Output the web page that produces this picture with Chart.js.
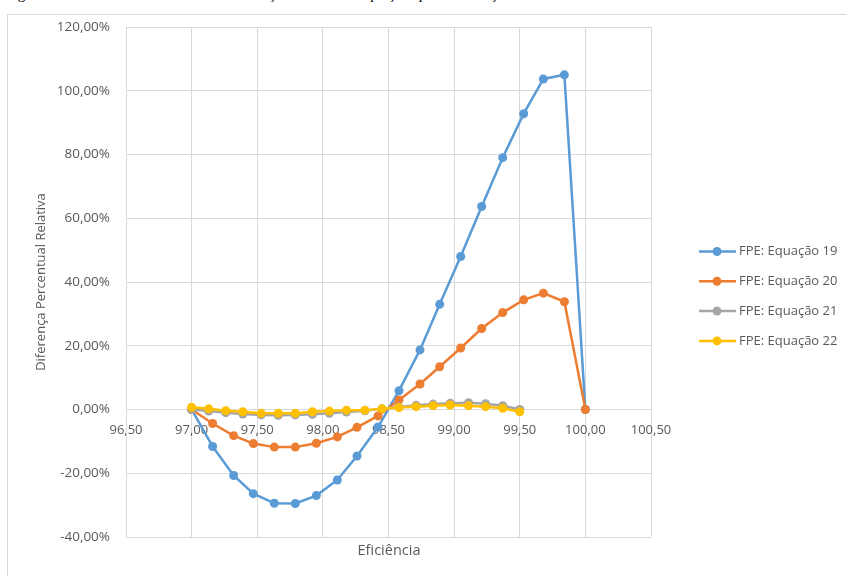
<!DOCTYPE html>
<html lang="pt">
<head>
<meta charset="UTF-8">
<title>FPE - Diferença Percentual Relativa</title>
<script src="https://cdn.jsdelivr.net/npm/chart.js"></script>
<style>
body{
  margin:0;
  background:white;
  width:846px;
  height:576px;
  overflow:hidden;
  position:relative;
}
.caption{
  position:absolute;
  left:5px;
  top:-15px;
  font-family:"Liberation Serif";
  font-size:15.2px;
  color:black;
  white-space:nowrap;
}
.frame{
  position:absolute;
  left:7px;
  top:14px;
  width:900px;
  height:600px;
  border:1px solid #d9d9d9;
}
#chart{
  position:absolute;
  left:0;
  top:0;
}
</style>
</head>
<body>

<div class="caption">Figura 18 – Resultado da análise de diferença relativa das equações para a correção</div>
<div class="frame"></div>
<canvas id="chart" width="846" height="576"></canvas>

<script>
// eixo x das equações 19 e 20 (20 pontos de 97,00 a 100,00)
const efic1920 = [97.00, 97.16, 97.32, 97.47, 97.63, 97.79, 97.95, 98.11, 98.26, 98.42,
                  98.58, 98.74, 98.89, 99.05, 99.21, 99.37, 99.53, 99.68, 99.84, 100.00];
// eixo x das equações 21 e 22 (20 pontos de 97,00 a 99,50)
const efic2122 = [97.00, 97.13, 97.26, 97.39, 97.53, 97.66, 97.79, 97.92, 98.05, 98.18,
                  98.32, 98.45, 98.58, 98.71, 98.84, 98.97, 99.11, 99.24, 99.37, 99.50];

// valores em %
const eq19 = [0, -11.6, -20.7, -26.4, -29.4, -29.5, -27.0, -22.1, -14.6, -5.5,
              5.9, 18.7, 33.0, 48.0, 63.7, 79.0, 92.8, 103.7, 105.0, 0];
const eq20 = [0, -4.4, -8.2, -10.7, -11.8, -11.8, -10.6, -8.6, -5.6, -2.0,
              3.0, 8.0, 13.4, 19.3, 25.4, 30.4, 34.4, 36.5, 33.8, 0];
const eq21 = [0, -0.5, -1.0, -1.4, -1.7, -1.8, -1.7, -1.5, -1.2, -0.8,
              -0.4, 0.2, 0.8, 1.3, 1.7, 2.0, 2.1, 1.8, 1.2, 0.0];
const eq22 = [0.7, 0.2, -0.4, -0.7, -1.2, -1.2, -1.2, -0.7, -0.5, -0.2,
              -0.2, 0.2, 0.6, 0.9, 1.2, 1.4, 1.2, 0.9, 0.4, -0.7];

const nomes = ["FPE: Equação 19", "FPE: Equação 20", "FPE: Equação 21", "FPE: Equação 22"];
const cores = ["#5b9bd5", "#ed7d31", "#a5a5a5", "#ffc000"];

const yMin = -40, yMax = 120, yPasso = 20;
const xMin = 96.5, xMax = 100.5, xPasso = 0.5;

function pares(xs, ys){
  return xs.map((x,i)=>({x:x, y:ys[i]}));
}

const series = [
  pares(efic1920, eq19),
  pares(efic1920, eq20),
  pares(efic2122, eq21),
  pares(efic2122, eq22)
];

const FONTE = "'Open Sans'";
const CINZA = "#595959";

// legenda e título do eixo x desenhados à mão
const extras = {
  id:'extras',
  afterDraw(chart){
    const c = chart.ctx;
    c.save();
    chart.data.datasets.forEach((ds,i)=>{
      const y = 251.5 + i*29.8;
      c.strokeStyle = ds.borderColor;
      c.lineWidth = 2.5;
      c.beginPath();
      c.moveTo(699,y);
      c.lineTo(736,y);
      c.stroke();
      c.fillStyle = ds.borderColor;
      c.beginPath();
      c.arc(717,y,4.5,0,Math.PI*2);
      c.fill();
      c.fillStyle = CINZA;
      c.font = "13px " + FONTE;
      c.textAlign = 'left';
      c.textBaseline = 'middle';
      c.fillText(ds.label, 739, y);
    });
    c.font = "14.5px " + FONTE;
    c.textAlign = 'center';
    c.textBaseline = 'middle';
    c.fillText("Eficiência", 389, 551);
    c.restore();
  }
};

new Chart(document.getElementById('chart'),{
  type:'scatter',
  data:{
    datasets: series.map((d,i)=>({
      label: nomes[i],
      data: d,
      showLine: true,
      borderColor: cores[i],
      backgroundColor: cores[i],
      borderWidth: 2.5,
      pointRadius: 4.5,
      pointHoverRadius: 4.5,
      pointBorderWidth: 0,
      order: 4 - i
    }))
  },
  options:{
    responsive:false,
    animation:false,
    devicePixelRatio:1,
    layout:{ padding:{ left:0, right:195, top:27, bottom:39 } },
    plugins:{
      legend:{ display:false },
      tooltip:{ enabled:false }
    },
    scales:{
      x:{
        type:'linear',
        position:{ y:0 },
        min:xMin, max:xMax,
        ticks:{
          stepSize:xPasso,
          padding:13,
          color:CINZA,
          font:{ family:FONTE, size:13 },
          callback: v => v.toFixed(2).replace('.',',')
        },
        grid:{ color:'#d9d9d9', lineWidth:1, drawTicks:false },
        border:{ color:'#d9d9d9' }
      },
      y:{
        min:yMin, max:yMax,
        afterFit: s => { s.width = 126; },
        ticks:{
          stepSize:yPasso,
          padding:16,
          color:CINZA,
          font:{ family:FONTE, size:13.5 },
          callback: v => v.toFixed(2).replace('.',',') + '%'
        },
        grid:{ color:'#d9d9d9', lineWidth:1, drawTicks:false },
        border:{ color:'#d9d9d9' },
        title:{
          display:true,
          text:'Diferença Percentual Relativa',
          color:CINZA,
          font:{ family:FONTE, size:13 },
          padding:{ top:33, bottom:0 }
        }
      }
    }
  },
  plugins:[extras]
});
</script>
</body>
</html>
